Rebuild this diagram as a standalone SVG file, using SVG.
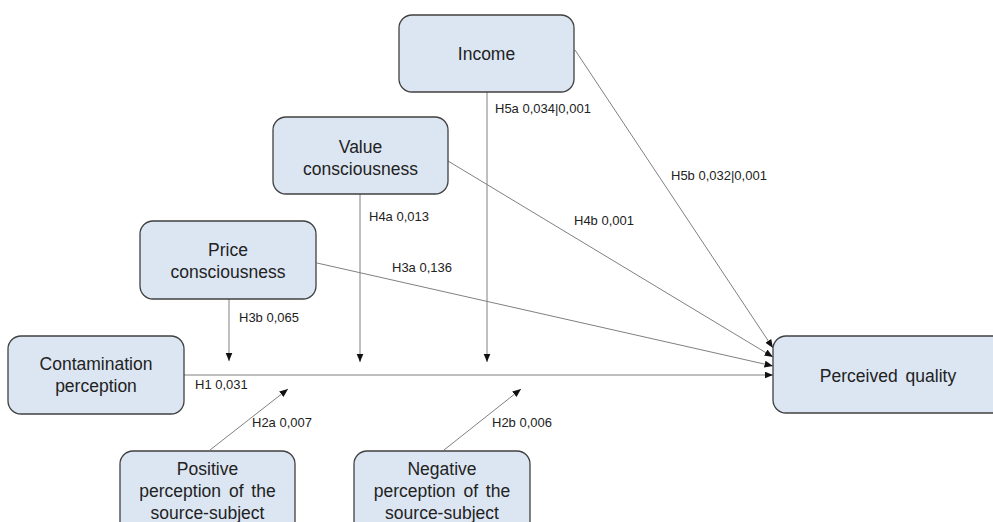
<svg xmlns="http://www.w3.org/2000/svg" width="993" height="522" viewBox="0 0 993 522">
<defs>
<marker id="ah" markerUnits="userSpaceOnUse" markerWidth="9" markerHeight="8" refX="8.5" refY="3.5" orient="auto">
<path d="M0,0 L8.5,3.5 L0,7 z" fill="#111"/>
</marker>
<style>
.box{fill:#dce6f2;stroke:#404040;stroke-width:1.3}
.nt{font-family:"Liberation Sans",Arial,sans-serif;font-size:17.5px;fill:#222;text-anchor:middle}
.lb{font-family:"Liberation Sans",Arial,sans-serif;font-size:13px;fill:#222}
.cn{stroke:#808080;stroke-width:1;fill:none;marker-end:url(#ah)}
</style>
</defs>
<rect width="993" height="522" fill="#fff"/>
<g id="connectors">
<line class="cn" x1="575" y1="50" x2="773" y2="348"/>
<line class="cn" x1="448" y1="161" x2="773" y2="357"/>
<line class="cn" x1="317" y1="263" x2="773" y2="366"/>
<line class="cn" x1="184" y1="375" x2="773" y2="375"/>
<line class="cn" x1="487" y1="92" x2="487" y2="362"/>
<line class="cn" x1="360" y1="194" x2="360" y2="362"/>
<line class="cn" x1="229" y1="299" x2="229" y2="361"/>
<line class="cn" x1="210" y1="450" x2="288" y2="389"/>
<line class="cn" x1="444" y1="450" x2="521" y2="389"/>
<text class="lb" x="495" y="113">H5a 0,034|0,001</text>
<text class="lb" x="671" y="180">H5b 0,032|0,001</text>
<text class="lb" x="369" y="221">H4a 0,013</text>
<text class="lb" x="574" y="225">H4b 0,001</text>
<text class="lb" x="392" y="272">H3a 0,136</text>
<text class="lb" x="239" y="322">H3b 0,065</text>
<text class="lb" x="195" y="389">H1 0,031</text>
<text class="lb" x="252" y="427">H2a 0,007</text>
<text class="lb" x="492" y="427">H2b 0,006</text>
</g>
<g id="income">
<rect class="box" x="399" y="15" width="175" height="77" rx="13"/>
<text class="nt" x="486.5" y="60">Income</text>
</g>
<g id="value">
<rect class="box" x="273" y="117" width="175" height="77" rx="13"/>
<text class="nt" x="360.5" y="153">Value</text>
<text class="nt" x="360.5" y="175">consciousness</text>
</g>
<g id="price">
<rect class="box" x="140" y="221" width="176" height="78" rx="13"/>
<text class="nt" x="228" y="256">Price</text>
<text class="nt" x="228" y="278">consciousness</text>
</g>
<g id="contamination">
<rect class="box" x="8" y="336" width="176" height="78" rx="13"/>
<text class="nt" x="96" y="370">Contamination</text>
<text class="nt" x="96" y="392">perception</text>
</g>
<g id="positive">
<rect class="box" x="120" y="451" width="175" height="90" rx="13"/>
<text class="nt" x="207.5" y="475">Positive</text>
<text class="nt" x="207.5" y="497" word-spacing="3">perception of the</text>
<text class="nt" x="207.5" y="519">source-subject</text>
</g>
<g id="negative">
<rect class="box" x="354" y="451" width="176" height="90" rx="13"/>
<text class="nt" x="442" y="475">Negative</text>
<text class="nt" x="442" y="497" word-spacing="3">perception of the</text>
<text class="nt" x="442" y="519">source-subject</text>
</g>
<g id="perceived">
<rect class="box" x="773" y="336" width="235" height="77" rx="13"/>
<text class="nt" x="888" y="382" word-spacing="3">Perceived quality</text>
</g>
</svg>
